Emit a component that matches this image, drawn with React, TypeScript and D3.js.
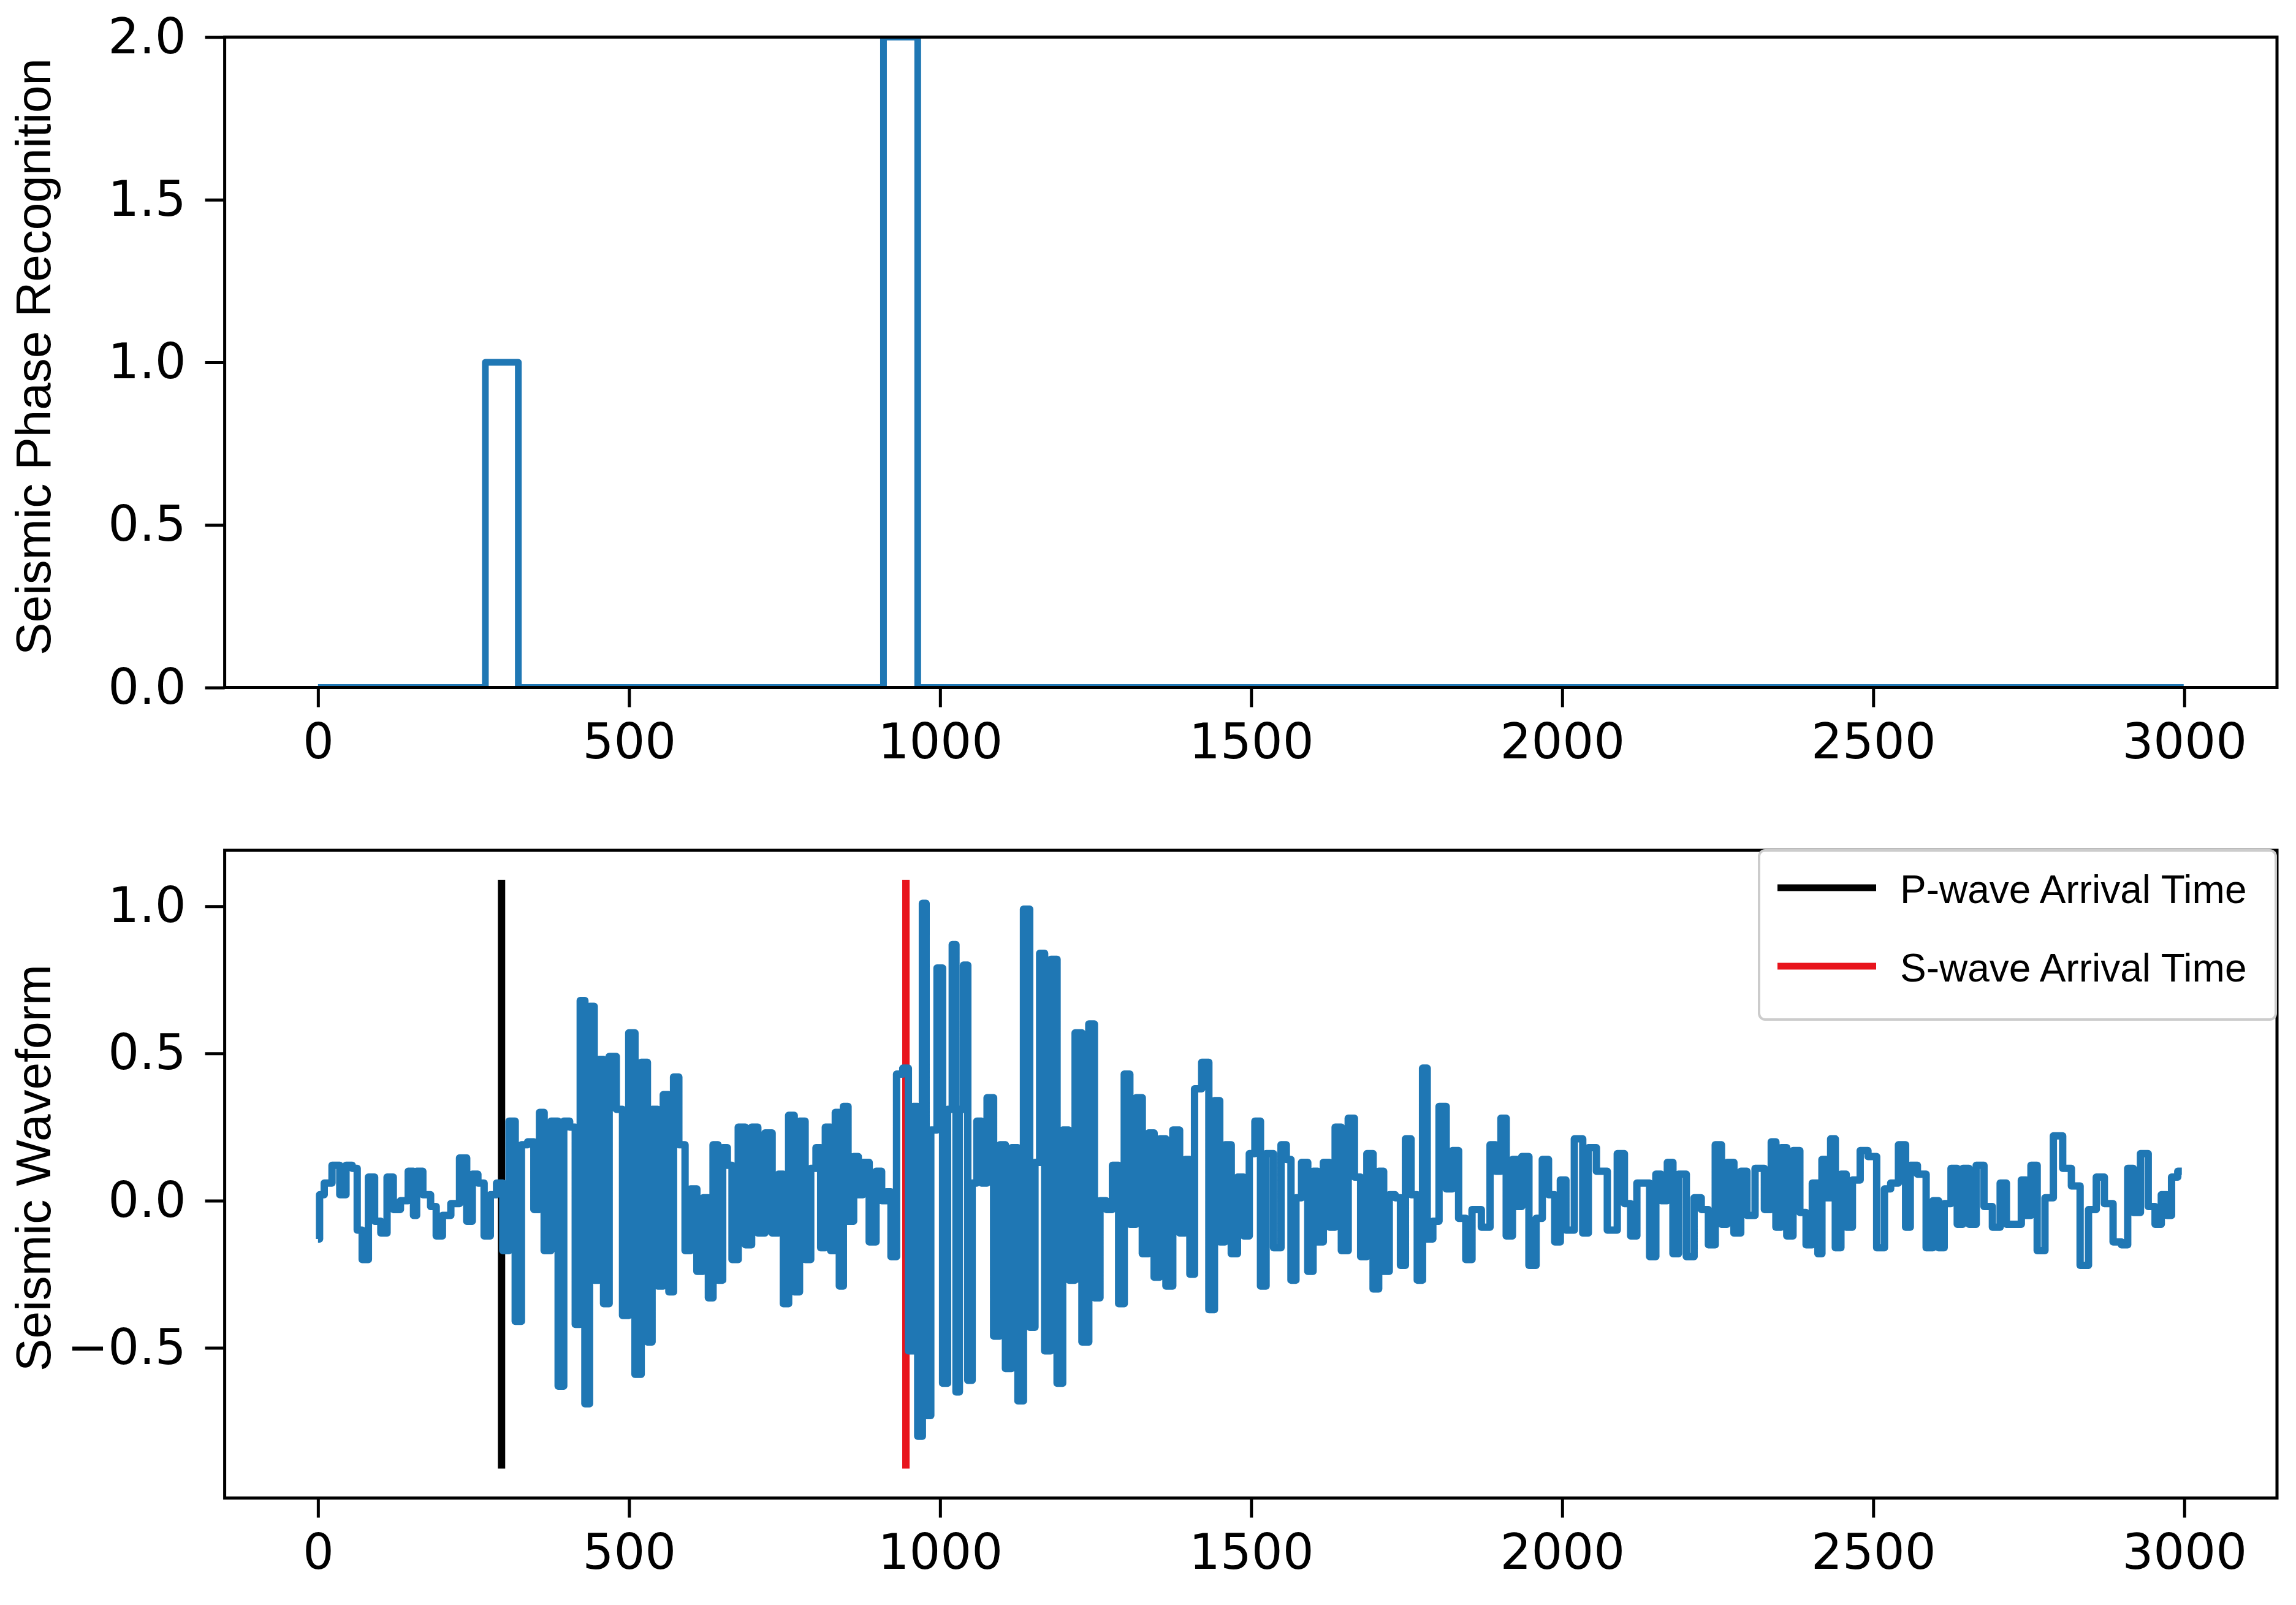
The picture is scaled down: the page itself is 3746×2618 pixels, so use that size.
import { useEffect, useMemo, useRef } from 'react';
import * as d3 from 'd3';

// phase recognition output (step function: value holds until the next change)
const phaseChangeAt = [0, 269, 322, 909, 964, 2999];
const phaseValue = [0, 1, 0, 2, 0, 0];

// seismic waveform, peaks and troughs
const waveTime = [
    0, 5, 15, 30, 40, 50, 60, 66, 76, 86, 96, 106, 116, 126, 139, 151, 156, 161, 176, 186,
    194, 206, 221, 234, 244, 252, 262, 272, 282, 292, 302, 312, 322, 332, 342, 352, 360, 367, 382, 390,
    400, 409, 418, 425, 433, 440, 448, 455, 463, 473, 486, 493, 506, 513, 526, 533, 541, 551, 559, 569,
    574, 586, 594, 604, 614, 624, 631, 639, 647, 654, 662, 669, 682, 692, 702, 712, 725, 735, 745,
    751, 762, 769, 779, 787, 797, 804, 812, 819, 829, 834, 842, 847, 857, 865, 872, 880, 892, 902, 910,
    917, 925, 935, 945, 953, 960, 968, 975, 980, 990, 1000, 1008, 1016, 1023, 1028, 1034, 1041, 1048, 1055, 1063,
    1070, 1081, 1091, 1101, 1109, 1121, 1129, 1139, 1149, 1156, 1164, 1172, 1184, 1192, 1202, 1212, 1222, 1234, 1244, 1252,
    1262, 1272, 1282, 1292, 1300, 1310, 1320, 1330, 1340, 1348, 1358, 1368, 1380, 1390, 1398, 1405, 1413, 1428, 1436, 1446,
    1453, 1463, 1473, 1483, 1493, 1501, 1511, 1519, 1529,
    1543, 1553, 1560, 1568, 1576, 1586, 1596, 1603, 1611, 1621, 1631, 1639, 1651, 1661, 1671, 1681, 1691, 1701, 1709, 1717,
    1727, 1736, 1744, 1752, 1762, 1772, 1779, 1787, 1797, 1807, 1820, 1827, 1840, 1850, 1860, 1880, 1888, 1898, 1905, 1915,
    1925, 1930, 1940, 1953, 1963, 1973, 1983, 1993, 2001, 2011, 2028, 2038, 2046, 2064, 2081, 2096, 2104, 2116, 2124, 2134,
    2147, 2154, 2164, 2174, 2182, 2192, 2207, 2217, 2230, 2240, 2252, 2260, 2270, 2282, 2292, 2302, 2318,
    2332, 2340, 2347, 2357, 2365, 2377, 2387, 2397, 2407, 2415, 2420, 2428, 2435, 2443, 2453, 2460, 2473, 2485, 2498, 2513,
    2523, 2533, 2548, 2556, 2563, 2579, 2591, 2601, 2609, 2619, 2631, 2639, 2649, 2659, 2672, 2684, 2699, 2709, 2719, 2734,
    2742, 2750, 2757, 2770, 2782, 2797, 2812, 2825, 2840, 2852, 2865, 2878, 2893, 2905, 2913, 2923, 2936, 2948, 2958, 2968,
    2976, 2983, 2996,
];
const waveAmp = [
    -0.13, 0.02, 0.06, 0.12, 0.02, 0.12, 0.11, -0.1, -0.2, 0.08, -0.07, -0.11, 0.08, -0.03, 0.0, 0.1, -0.05, 0.1, 0.02, -0.02,
    -0.12, -0.05, -0.01, 0.145, -0.07, 0.09, 0.06, -0.12, 0.02, 0.06, -0.17, 0.27, -0.41, 0.19, 0.2, -0.03, 0.3, -0.17, 0.27, -0.63,
    0.27, 0.25, -0.42, 0.68, -0.69, 0.66, -0.27, 0.48, -0.35, 0.49, 0.31, -0.39, 0.57, -0.59, 0.47, -0.48, 0.31, -0.29, 0.36, -0.31,
    0.42, 0.19, -0.17, 0.04, -0.24, 0.01, -0.33, 0.19, -0.27, 0.18, 0.12, -0.2, 0.25, -0.15, 0.25, -0.11, 0.23, -0.11, 0.09,
    -0.35, 0.29, -0.31, 0.27, -0.2, 0.11, 0.18, -0.16, 0.25, -0.17, 0.3, -0.29, 0.32, -0.07, 0.15, 0.02, 0.13, -0.14, 0.1, 0.0,
    0.03, -0.19, 0.43, 0.45, -0.51, 0.32, -0.8, 1.01, -0.73, 0.24, 0.79, -0.62, 0.31, 0.87, -0.65, 0.31, 0.8, -0.61, 0.06, 0.27,
    0.06, 0.35, -0.46, 0.19, -0.57, 0.18, -0.68, 0.99, -0.43, 0.13, 0.84, -0.51, 0.82, -0.62, 0.24, -0.27, 0.57, -0.48, 0.6, -0.33,
    0.0, -0.03, 0.12, -0.35, 0.43, -0.08, 0.35, -0.18, 0.23, -0.26, 0.21, -0.29, 0.24, -0.11, 0.14, -0.25, 0.38, 0.47, -0.37, 0.34,
    -0.14, 0.19, -0.18, 0.08, -0.12, 0.16, 0.27, -0.29, 0.16,
    -0.16, 0.19, 0.14, -0.27, 0.01, 0.13, -0.24, 0.1, -0.14, 0.13, -0.09, 0.25, -0.17, 0.28, 0.08, -0.19, 0.16, -0.3, 0.1, -0.24,
    0.02, 0.01, -0.22, 0.21, 0.02, -0.27, 0.45, -0.13, -0.07, 0.32, 0.04, 0.17, -0.06, -0.2, -0.03, -0.09, 0.19, 0.1, 0.28, -0.12,
    0.14, -0.02, 0.15, -0.22, -0.06, 0.14, 0.02, -0.14, 0.07, -0.1, 0.21, -0.11, 0.18, 0.1, -0.1, 0.16, -0.01, -0.12, 0.06, 0.06,
    -0.19, 0.09, 0.0, 0.13, -0.18, 0.09, -0.19, 0.01, -0.03, -0.15, 0.19, -0.08, 0.13, -0.11, 0.1, -0.05, 0.11,
    -0.03, 0.2, -0.09, 0.18, -0.12, 0.17, -0.04, -0.15, 0.06, -0.18, 0.14, 0.01, 0.21, -0.16, 0.09, -0.09, 0.07, 0.17, 0.15, -0.16,
    0.04, 0.06, 0.19, -0.09, 0.12, 0.09, -0.16, 0.0, -0.16, -0.01, 0.11, -0.08, 0.11, -0.08, 0.12, -0.02, -0.09, 0.06, -0.08, -0.08,
    0.07, -0.05, 0.12, -0.17, 0.01, 0.22, 0.11, 0.05, -0.22, -0.03, 0.08, -0.01, -0.14, -0.15, 0.11, -0.04, 0.16, -0.02, -0.08, 0.02,
    -0.05, 0.08, 0.1,
];

// picked arrivals, vertical marker span
const arrivalNames = ['P-wave Arrival Time', 'S-wave Arrival Time'];
const arrivalTimes = [295, 945];
const arrivalColours = ['#000000', '#e8141c'];
const markerSpan = [-0.91, 1.09];

const xTicks = [0, 500, 1000, 1500, 2000, 2500, 3000];
const phaseTicks = [0, 0.5, 1, 1.5, 2];
const waveTicks = [-0.5, 0, 0.5, 1];

const W = 3746;
const H = 2618;
const LEFT = 366.6;
const RIGHT = 3715;
const TOP_PANEL = { top: 60.5, bottom: 1121.5 };
const BOT_PANEL = { top: 1387, bottom: 2443.5 };
const BLUE = '#1f77b4';
const TICK_FONT = '"DejaVu Sans", sans-serif';
const LABEL_FONT = '"Liberation Sans", Arial, sans-serif';

function styleAxis(g: d3.Selection<SVGGElement, unknown, null, undefined>) {
    g.select('.domain').remove();
    g.selectAll('.tick line').attr('stroke', '#000').attr('stroke-width', 5);
    g.selectAll('.tick text')
        .attr('fill', '#000')
        .style('font-family', TICK_FONT)
        .style('font-size', '80px');
}

export default function App() {
    const topX = useRef<SVGGElement>(null);
    const topY = useRef<SVGGElement>(null);
    const botX = useRef<SVGGElement>(null);
    const botY = useRef<SVGGElement>(null);

    const xScale = useMemo(() => d3.scaleLinear().domain([-150, 3149]).range([LEFT, RIGHT]), []);
    const phaseY = useMemo(
        () => d3.scaleLinear().domain([0, 2]).range([TOP_PANEL.bottom, TOP_PANEL.top]),
        []
    );
    const waveY = useMemo(
        () => d3.scaleLinear().domain([-1.01, 1.19]).range([BOT_PANEL.bottom, BOT_PANEL.top]),
        []
    );

    useEffect(() => {
        const xAxis = d3
            .axisBottom(xScale)
            .tickValues(xTicks)
            .tickFormat(d3.format('d'))
            .tickSize(32)
            .tickPadding(27);
        if (topX.current) d3.select(topX.current).call(xAxis).call(styleAxis);
        if (botX.current) d3.select(botX.current).call(xAxis).call(styleAxis);

        const mkY = (s: d3.ScaleLinear<number, number>, ticks: number[]) =>
            d3.axisLeft(s).tickValues(ticks).tickFormat(d3.format('.1f')).tickSize(32).tickPadding(31);
        if (topY.current) d3.select(topY.current).call(mkY(phaseY, phaseTicks)).call(styleAxis);
        if (botY.current) d3.select(botY.current).call(mkY(waveY, waveTicks)).call(styleAxis);
    }, [xScale, phaseY, waveY]);

    const phasePath = useMemo(() => {
        const pts = phaseChangeAt.map((t, i) => [t, phaseValue[i]] as [number, number]);
        return d3
            .line<[number, number]>()
            .x((d) => xScale(d[0]))
            .y((d) => phaseY(d[1]))
            .curve(d3.curveStepAfter)(pts);
    }, [xScale, phaseY]);

    // the trace in the figure is blocky (flat tops, vertical jumps), so hold each value
    const wavePath = useMemo(() => {
        const pts = waveTime.map((t, i) => [t, waveAmp[i]] as [number, number]);
        return d3
            .line<[number, number]>()
            .x((d) => xScale(d[0]))
            .y((d) => waveY(d[1]))
            .curve(d3.curveStep)(pts);
    }, [xScale, waveY]);

    const legendX = 2870;
    const legendY = 1387;
    const rowY = [1448, 1576];

    return (
        <svg
            width={W}
            height={H}
            viewBox={`0 0 ${W} ${H}`}
            style={{ position: 'absolute', left: 0, top: 0, background: '#fff' }}
        >
            <defs>
                <clipPath id="clip-top">
                    <rect x={LEFT} y={TOP_PANEL.top} width={RIGHT - LEFT} height={TOP_PANEL.bottom - TOP_PANEL.top} />
                </clipPath>
                <clipPath id="clip-bot">
                    <rect x={LEFT} y={BOT_PANEL.top} width={RIGHT - LEFT} height={BOT_PANEL.bottom - BOT_PANEL.top} />
                </clipPath>
            </defs>
            <rect x={0} y={0} width={W} height={H} fill="#fff" />

            {/* upper panel */}
            <path
                d={phasePath ?? ''}
                fill="none"
                stroke={BLUE}
                strokeWidth={11}
                strokeLinejoin="round"
                clipPath="url(#clip-top)"
            />
            <rect
                x={LEFT}
                y={TOP_PANEL.top}
                width={RIGHT - LEFT}
                height={TOP_PANEL.bottom - TOP_PANEL.top}
                fill="none"
                stroke="#000"
                strokeWidth={5}
            />
            <g ref={topX} transform={`translate(0, ${TOP_PANEL.bottom})`} />
            <g ref={topY} transform={`translate(${LEFT}, 0)`} />
            <text
                transform={`translate(82, 582) rotate(-90)`}
                textAnchor="middle"
                fontFamily={LABEL_FONT}
                fontSize={80}
            >
                Seismic Phase Recognition
            </text>

            {/* lower panel: arrival markers sit under the trace */}
            {arrivalTimes.map((t, i) => (
                <line
                    key={arrivalNames[i]}
                    x1={xScale(t)}
                    x2={xScale(t)}
                    y1={waveY(markerSpan[0])}
                    y2={waveY(markerSpan[1])}
                    stroke={arrivalColours[i]}
                    strokeWidth={12}
                />
            ))}
            <path
                d={wavePath ?? ''}
                fill="none"
                stroke={BLUE}
                strokeWidth={12}
                strokeLinejoin="round"
                clipPath="url(#clip-bot)"
            />
            <rect
                x={LEFT}
                y={BOT_PANEL.top}
                width={RIGHT - LEFT}
                height={BOT_PANEL.bottom - BOT_PANEL.top}
                fill="none"
                stroke="#000"
                strokeWidth={5}
            />
            <g ref={botX} transform={`translate(0, ${BOT_PANEL.bottom})`} />
            <g ref={botY} transform={`translate(${LEFT}, 0)`} />
            <text
                transform={`translate(82, 1905) rotate(-90)`}
                textAnchor="middle"
                fontFamily={LABEL_FONT}
                fontSize={80}
            >
                Seismic Waveform
            </text>

            {/* legend */}
            <rect
                x={legendX}
                y={legendY}
                width={RIGHT - 2 - legendX}
                height={276}
                rx={10}
                fill="#fff"
                fillOpacity={0.8}
                stroke="#cccccc"
                strokeWidth={4}
            />
            {arrivalNames.map((name, i) => (
                <g key={name}>
                    <line
                        x1={2900}
                        x2={3061}
                        y1={rowY[i]}
                        y2={rowY[i]}
                        stroke={arrivalColours[i]}
                        strokeWidth={11}
                    />
                    <text x={3100} y={rowY[i] + 25} fontFamily={LABEL_FONT} fontSize={64} fill="#000">
                        {name}
                    </text>
                </g>
            ))}
        </svg>
    );
}
